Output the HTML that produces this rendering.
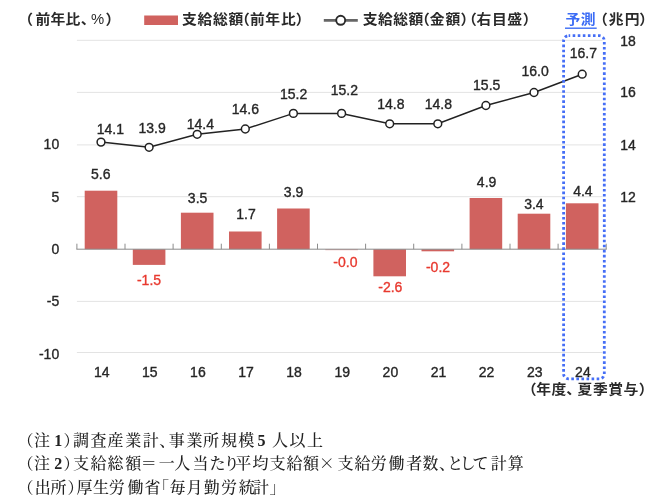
<!DOCTYPE html>
<html lang="ja"><head><meta charset="utf-8"><title>chart</title>
<style>
html,body{margin:0;padding:0;background:#fff;}
body{width:661px;height:504px;overflow:hidden;position:relative;}
svg{position:absolute;left:0;top:0;display:block;}
.num{font-family:"Liberation Sans","Noto Sans CJK JP",sans-serif;font-size:14px;fill:#262626;stroke:#262626;stroke-width:0.35px;}
.neg{fill:#e8392f;stroke:#e8392f;}
.jp{font-family:"Liberation Sans","Noto Sans CJK JP",sans-serif;font-size:14px;font-weight:bold;fill:#2a2a2a;font-feature-settings:"palt";}
.note{font-family:"Liberation Serif","Noto Serif CJK JP","Noto Serif CJK SC",serif;font-size:16px;font-weight:500;fill:#222;font-feature-settings:"palt";}
</style></head><body>
<svg width="661" height="504" viewBox="0 0 661 504">

<line x1="76.9" x2="602.5" y1="40.3" y2="40.3" stroke="#e3e3e3" stroke-width="1"/>
<line x1="76.9" x2="602.5" y1="92.4" y2="92.4" stroke="#e3e3e3" stroke-width="1"/>
<line x1="76.9" x2="602.5" y1="144.9" y2="144.9" stroke="#e3e3e3" stroke-width="1"/>
<line x1="76.9" x2="602.5" y1="196.7" y2="196.7" stroke="#e3e3e3" stroke-width="1"/>
<line x1="76.9" x2="602.5" y1="301.4" y2="301.4" stroke="#e3e3e3" stroke-width="1"/>
<line x1="76.9" x2="602.5" y1="352.5" y2="352.5" stroke="#e3e3e3" stroke-width="1"/>
<rect x="84.7" y="190.7" width="32.6" height="58.5" fill="#d0625f"/>
<rect x="132.8" y="249.2" width="32.6" height="15.7" fill="#d0625f"/>
<rect x="180.9" y="212.7" width="32.6" height="36.5" fill="#d0625f"/>
<rect x="229.0" y="231.5" width="32.6" height="17.7" fill="#d0625f"/>
<rect x="277.1" y="208.5" width="32.6" height="40.7" fill="#d0625f"/>
<rect x="325.3" y="249.2" width="32.6" height="1" fill="#e6a5a3"/>
<rect x="373.4" y="249.2" width="32.6" height="27.1" fill="#d0625f"/>
<rect x="421.5" y="249.2" width="32.6" height="2.1" fill="#d0625f"/>
<rect x="469.6" y="198.0" width="32.6" height="51.2" fill="#d0625f"/>
<rect x="517.7" y="213.7" width="32.6" height="35.5" fill="#d0625f"/>
<rect x="565.9" y="203.3" width="32.6" height="45.9" fill="#d0625f"/>
<line x1="76.4" x2="606.7" y1="249.2" y2="249.2" stroke="#8c8c8c" stroke-width="1"/>
<line x1="76.9" x2="76.9" y1="243.7" y2="249.2" stroke="#8c8c8c" stroke-width="1"/>
<line x1="125.0" x2="125.0" y1="243.7" y2="249.2" stroke="#8c8c8c" stroke-width="1"/>
<line x1="173.1" x2="173.1" y1="243.7" y2="249.2" stroke="#8c8c8c" stroke-width="1"/>
<line x1="221.3" x2="221.3" y1="243.7" y2="249.2" stroke="#8c8c8c" stroke-width="1"/>
<line x1="269.4" x2="269.4" y1="243.7" y2="249.2" stroke="#8c8c8c" stroke-width="1"/>
<line x1="317.5" x2="317.5" y1="243.7" y2="249.2" stroke="#8c8c8c" stroke-width="1"/>
<line x1="365.6" x2="365.6" y1="243.7" y2="249.2" stroke="#8c8c8c" stroke-width="1"/>
<line x1="413.7" x2="413.7" y1="243.7" y2="249.2" stroke="#8c8c8c" stroke-width="1"/>
<line x1="461.9" x2="461.9" y1="243.7" y2="249.2" stroke="#8c8c8c" stroke-width="1"/>
<line x1="510.0" x2="510.0" y1="243.7" y2="249.2" stroke="#8c8c8c" stroke-width="1"/>
<line x1="558.1" x2="558.1" y1="243.7" y2="249.2" stroke="#8c8c8c" stroke-width="1"/>
<line x1="606.2" x2="606.2" y1="243.7" y2="249.2" stroke="#8c8c8c" stroke-width="1"/>
<polyline points="101.0,142.1 149.1,147.3 197.2,134.3 245.3,129.0 293.4,113.4 341.6,113.4 389.7,123.8 437.8,123.8 485.9,105.5 534.0,92.5 582.2,74.2" fill="none" stroke="#222" stroke-width="1.5"/>
<circle cx="101.0" cy="142.1" r="3.9" fill="#fff" stroke="#222" stroke-width="1.5"/>
<circle cx="149.1" cy="147.3" r="3.9" fill="#fff" stroke="#222" stroke-width="1.5"/>
<circle cx="197.2" cy="134.3" r="3.9" fill="#fff" stroke="#222" stroke-width="1.5"/>
<circle cx="245.3" cy="129.0" r="3.9" fill="#fff" stroke="#222" stroke-width="1.5"/>
<circle cx="293.4" cy="113.4" r="3.9" fill="#fff" stroke="#222" stroke-width="1.5"/>
<circle cx="341.6" cy="113.4" r="3.9" fill="#fff" stroke="#222" stroke-width="1.5"/>
<circle cx="389.7" cy="123.8" r="3.9" fill="#fff" stroke="#222" stroke-width="1.5"/>
<circle cx="437.8" cy="123.8" r="3.9" fill="#fff" stroke="#222" stroke-width="1.5"/>
<circle cx="485.9" cy="105.5" r="3.9" fill="#fff" stroke="#222" stroke-width="1.5"/>
<circle cx="534.0" cy="92.5" r="3.9" fill="#fff" stroke="#222" stroke-width="1.5"/>
<circle cx="582.2" cy="74.2" r="3.9" fill="#fff" stroke="#222" stroke-width="1.5"/>
<text class="num" x="110.3" y="133.7" text-anchor="middle">14.1</text>
<text class="num" x="100.8" y="178.7" text-anchor="middle">5.6</text>
<text class="num" x="101.7" y="377.1" text-anchor="middle">14</text>
<text class="num" x="152.1" y="132.7" text-anchor="middle">13.9</text>
<text class="num neg" x="149" y="285.1" text-anchor="middle">-1.5</text>
<text class="num" x="149.8" y="377.1" text-anchor="middle">15</text>
<text class="num" x="200.4" y="129.0" text-anchor="middle">14.4</text>
<text class="num" x="197.6" y="202.7" text-anchor="middle">3.5</text>
<text class="num" x="197.9" y="377.1" text-anchor="middle">16</text>
<text class="num" x="245.3" y="113.9" text-anchor="middle">14.6</text>
<text class="num" x="246" y="219.3" text-anchor="middle">1.7</text>
<text class="num" x="246.0" y="377.1" text-anchor="middle">17</text>
<text class="num" x="293.6" y="98.5" text-anchor="middle">15.2</text>
<text class="num" x="293.6" y="197.0" text-anchor="middle">3.9</text>
<text class="num" x="294.1" y="377.1" text-anchor="middle">18</text>
<text class="num" x="344.4" y="95.0" text-anchor="middle">15.2</text>
<text class="num neg" x="345.4" y="267.2" text-anchor="middle">-0.0</text>
<text class="num" x="342.3" y="377.1" text-anchor="middle">19</text>
<text class="num" x="390.8" y="108.9" text-anchor="middle">14.8</text>
<text class="num neg" x="390.3" y="292.0" text-anchor="middle">-2.6</text>
<text class="num" x="390.4" y="377.1" text-anchor="middle">20</text>
<text class="num" x="438.3" y="108.9" text-anchor="middle">14.8</text>
<text class="num neg" x="438" y="272.2" text-anchor="middle">-0.2</text>
<text class="num" x="438.5" y="377.1" text-anchor="middle">21</text>
<text class="num" x="486.7" y="90.2" text-anchor="middle">15.5</text>
<text class="num" x="486.6" y="187.2" text-anchor="middle">4.9</text>
<text class="num" x="486.6" y="377.1" text-anchor="middle">22</text>
<text class="num" x="535.1" y="76.4" text-anchor="middle">16.0</text>
<text class="num" x="533.9" y="209.0" text-anchor="middle">3.4</text>
<text class="num" x="534.7" y="377.1" text-anchor="middle">23</text>
<text class="num" x="583.4" y="57.7" text-anchor="middle">16.7</text>
<text class="num" x="582.9" y="196.0" text-anchor="middle">4.4</text>
<text class="num" x="582.9" y="377.1" text-anchor="middle">24</text>
<text class="num" x="59.2" y="149.4" text-anchor="end">10</text>
<text class="num" x="59.2" y="201.8" text-anchor="end">5</text>
<text class="num" x="59.2" y="253.5" text-anchor="end">0</text>
<text class="num" x="59.2" y="306.2" text-anchor="end">-5</text>
<text class="num" x="59.2" y="358.6" text-anchor="end">-10</text>
<text class="num" x="620.3" y="46.2">18</text>
<text class="num" x="620.3" y="97.4">16</text>
<text class="num" x="620.3" y="150.0">14</text>
<text class="num" x="620.3" y="201.6">12</text>
<text class="jp" transform="scale(1.06 1)" y="23.7" x="23.58 33.40 47.55 61.70 76.32 85.75 100.19">（前年比、<tspan font-weight="normal">%</tspan>）</text>
<rect x="144.2" y="15.5" width="33.8" height="9.5" fill="#d0625f"/>
<text class="jp" transform="scale(1.06 1)" y="23.7" x="171.70 186.42 201.04 215.47 228.11 235.75 250.28 265.00 279.62">支給総額（前年比）</text>
<line x1="323.8" x2="357.8" y1="20.3" y2="20.3" stroke="#666" stroke-width="2.8"/>
<circle cx="340.7" cy="20.3" r="4.5" fill="#fff" stroke="#2a2a2a" stroke-width="1.9"/>
<text class="jp" transform="scale(1.06 1)" y="23.7" x="342.17 356.60 371.04 385.47 397.92 405.38 420.19 435.00 442.26 449.62 464.06 478.49 493.77">支給総額（金額）（右目盛）</text>
<text class="jp" transform="scale(1.06 1)" y="23.7" x="533.40 547.83" style="fill:#3b6cf5">予測</text>
<line x1="565" x2="596.7" y1="28.2" y2="28.2" stroke="#3b6cf5" stroke-width="1.4"/>
<text class="jp" transform="scale(1.06 1)" y="23.7" x="565.75 574.25 589.34 603.68">（兆円）</text>
<text class="jp" transform="scale(1.06 1)" y="394" x="498.68 505.85 520.38 534.34 544.91 559.34 573.77 588.30 603.21">（年度、夏季賞与）</text>
<text class="note" y="445.8" x="25.2 34.0 54.3 63.8 73.1 90.5 107.6 125.2 142.8 159.5 168.8 186.6 203.1 220.9 238.3 257.6 272.0 289.6 306.9">（注<tspan font-weight="bold">1</tspan>）調査産業計、事業所規模<tspan font-weight="bold">5</tspan>人以上</text>
<text class="note" y="469.3" x="25.2 34.0 54.3 63.8 73.1 90.5 107.4 125.2 141.9 158.8 174.2 192.4 209.5 225.5 235.2 252.4 269.5 286.6 303.1 318.7 337.5 354.5 370.8 388.5 406.3 422.6 439.4 448.6 461.4 473.0 490.8 507.8">（注<tspan font-weight="bold">2</tspan>）支給総額＝一人当たり平均支給額<tspan style="font-family:'Noto Serif CJK JP','Noto Serif CJK SC',serif">×</tspan>支給労働者数、として計算</text>
<text class="note" y="492.8" x="25.2 34.7 50.4 67.9 76.6 93.0 108.8 127.4 144.5 160.9 169.5 186.5 203.8 220.9 238.8 253.1 269.5">（出所）厚生労働省「毎月勤労統計」</text>
<rect x="563.6" y="35.7" width="40.7" height="343.2" rx="5" fill="none" stroke="#456ef6" stroke-width="2.8" stroke-dasharray="2.6 2.47" stroke-dashoffset="1"/>
</svg>
</body></html>
